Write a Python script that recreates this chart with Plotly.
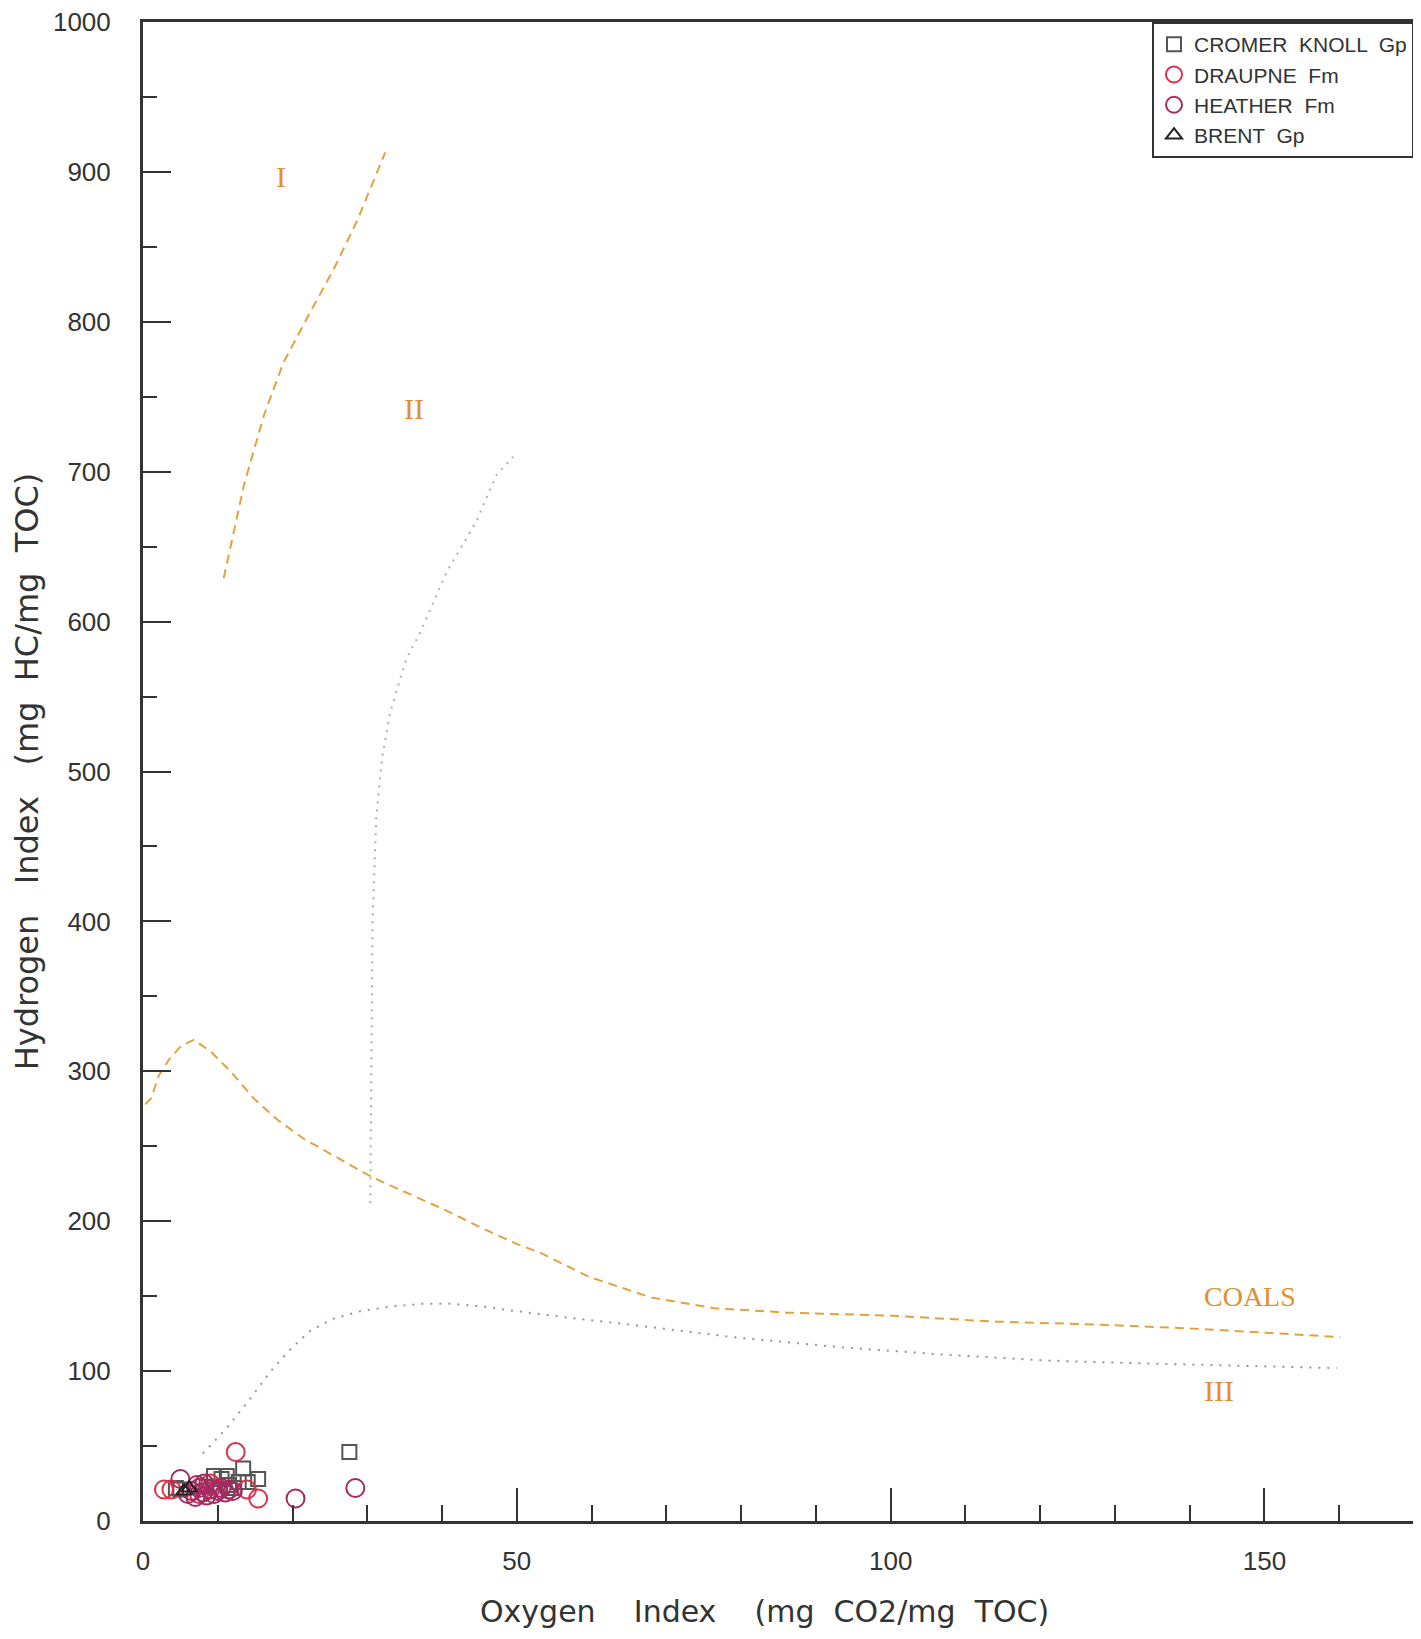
import plotly.graph_objects as go

# ---------------- data ----------------
x_tick_vals = [0, 50, 100, 150]
x_tick_text = ["0", "50", "100", "150"]
x_minor_vals = [10, 20, 30, 40, 50, 60, 70, 80, 90, 100, 110, 120, 130, 140, 150, 160]
y_tick_vals = [0, 100, 200, 300, 400, 500, 600, 700, 800, 900, 1000]
y_tick_text = ["0", "100", "200", "300", "400", "500", "600", "700", "800", "900", "1000"]
y_minor_vals = [50, 150, 250, 350, 450, 550, 650, 750, 850, 950]

# CROMER KNOLL Gp (squares)
cromer_oi = [4.4, 5.0, 8.5, 9.5, 10.5, 11.2, 11.5, 12.2, 12.8, 13.4, 14.0, 15.4, 27.6]
cromer_hi = [22, 21, 23, 30, 28, 30, 24, 22, 26, 35, 26, 28, 46]
# DRAUPNE Fm (red circles)
draupne_oi = [2.8, 3.8, 7.5, 9.0, 10.0, 12.4, 13.9, 15.4]
draupne_hi = [21, 21, 18, 25, 22, 46, 21, 15]
# HEATHER Fm (purple circles)
heather_oi = [5.0, 6.0, 6.5, 7.0, 7.2, 7.5, 8.0, 8.2, 8.5, 9.0, 9.5, 10.0, 10.5, 11.0, 11.5, 12.0, 20.4, 28.4]
heather_hi = [28, 18, 20, 16, 24, 22, 19, 25, 17, 21, 18, 20, 22, 19, 21, 20, 15, 22]
# BRENT Gp (triangles)
brent_oi = [5.5, 6.2]
brent_hi = [20, 22]

# Kerogen type evolution curves
type1_oi = [10.8, 13.5, 16.2, 18.8, 21.9, 25.5, 28.6, 31.2, 32.4]
type1_hi = [629, 691, 738, 773, 802, 835, 867, 898, 913]

type2_oi = [30.4, 30.5, 30.7, 31.2, 32.0, 33.1, 35.2, 37.1, 38.9, 40.6, 42.5, 44.6, 45.9, 47.3, 49.5]
type2_hi = [212, 300, 400, 470, 510, 540, 575, 593, 613, 633, 649, 667, 682, 698, 710]

coals_oi = [0.3, 1.1, 2.1, 3.5, 5.1, 6.8, 9.1, 11.7, 14.8, 17.9, 21.5, 25.1, 28.6, 30.4, 34.8, 40.2,
            45.5, 49.9, 53.1, 59.6, 68.0, 76.4, 86.1, 100.1, 114.0, 128.0, 142.0, 160.1]
coals_hi = [278, 282, 297, 308, 317, 321, 313, 300, 282, 268, 255, 245, 235, 230, 220, 208,
            195, 185, 179, 163, 149, 142, 139, 137, 133, 131, 128, 122.7]

type3_oi = [8.0, 9.5, 11.2, 14.4, 17.1, 19.8, 22.4, 25.5, 29.1, 33.1, 37.5, 41.1, 45.5, 49.9,
            57.9, 65.2, 79.2, 93.1, 107.1, 121.1, 135.0, 159.7]
type3_hi = [45, 53, 62, 82, 100, 115, 127, 135, 140, 143, 145, 145, 143, 140,
            135, 131, 122.5, 116, 111, 107, 105, 102]

label_text = ["I", "II", "COALS", "III"]
label_oi = [18.4, 36.2, 148.1, 143.9]
label_hi = [897, 742, 150, 87]

x_title = "Oxygen    Index    (mg  CO2/mg  TOC)"
y_title = "Hydrogen   Index   (mg  HC/mg  TOC)"

# ---------------- figure ----------------
AX = "#333333"
ORANGE = "#e2a23e"
DOT = "#b8aca4"
fig = go.Figure()

fig.add_trace(go.Scatter(x=type1_oi, y=type1_hi, mode="lines", showlegend=False, hoverinfo="skip",
                         line=dict(color=ORANGE, width=2, dash="9px,6px")))
fig.add_trace(go.Scatter(x=type2_oi, y=type2_hi, mode="lines", showlegend=False, hoverinfo="skip",
                         line=dict(color=DOT, width=2, dash="2px,6px")))
fig.add_trace(go.Scatter(x=coals_oi, y=coals_hi, mode="lines", showlegend=False, hoverinfo="skip",
                         line=dict(color=ORANGE, width=2, dash="9px,6px")))
fig.add_trace(go.Scatter(x=type3_oi, y=type3_hi, mode="lines", showlegend=False, hoverinfo="skip",
                         line=dict(color="#a89080", width=2, dash="2px,7px")))

fig.add_trace(go.Scatter(x=cromer_oi, y=cromer_hi, mode="markers", name="CROMER  KNOLL  Gp",
                         marker=dict(symbol="square-open", size=14, color="#555555", line=dict(width=2))))
fig.add_trace(go.Scatter(x=draupne_oi, y=draupne_hi, mode="markers", name="DRAUPNE  Fm",
                         marker=dict(symbol="circle-open", size=18, color="#e0304a", line=dict(width=2))))
fig.add_trace(go.Scatter(x=heather_oi, y=heather_hi, mode="markers", name="HEATHER  Fm",
                         marker=dict(symbol="circle-open", size=18, color="#a42a62", line=dict(width=2))))
fig.add_trace(go.Scatter(x=brent_oi, y=brent_hi, mode="markers", name="BRENT  Gp",
                         marker=dict(symbol="triangle-up-open", size=14, color="#222222", line=dict(width=2))))

label_sizes = [30, 30, 28, 30]
for t, xv, yv, s in zip(label_text, label_oi, label_hi, label_sizes):
    fig.add_annotation(x=xv, y=yv, text=t, showarrow=False,
                       font=dict(family="Liberation Serif", size=s, color="#e0902e"))

# x-axis title (as a paper-anchored annotation so it can sit slightly left of centre)
fig.add_annotation(xref="paper", yref="paper", x=0.4886, y=0, xanchor="center", yanchor="middle",
                   yshift=-90, showarrow=False, text=x_title, borderpad=0,
                   font=dict(family="DejaVu Sans", size=30, color=AX))

fig.update_layout(
    width=1408, height=1623,
    margin=dict(l=135, r=2, t=14, b=110, autoexpand=False),
    paper_bgcolor="white", plot_bgcolor="white",
    font=dict(family="Liberation Sans", color=AX, size=26),
    legend=dict(x=1, y=1, xanchor="right", yanchor="top", bgcolor="white",
                bordercolor=AX, borderwidth=2, font=dict(size=21, color=AX),
                tracegroupgap=0, itemsizing="trace"),
)

fig.update_xaxes(
    range=[0, 170], showgrid=False, zeroline=False, automargin=False,
    showline=True, linecolor=AX, linewidth=3, mirror=True,
    tickmode="array", tickvals=x_tick_vals, ticktext=x_tick_text,
    ticks="inside", ticklen=33, tickwidth=2, tickcolor=AX,
    minor=dict(tickmode="array", tickvals=x_minor_vals, ticks="inside", ticklen=16, tickwidth=2, tickcolor=AX),
    ticklabelstandoff=15, ticklabeloverflow="allow",
    tickfont=dict(size=26, color=AX),
)
fig.update_yaxes(
    range=[0, 1000], showgrid=False, zeroline=False, automargin=False,
    showline=True, linecolor=AX, linewidth=3, mirror=True,
    tickmode="array", tickvals=y_tick_vals, ticktext=y_tick_text,
    ticks="inside", ticklen=28, tickwidth=2, tickcolor=AX,
    minor=dict(tickmode="array", tickvals=y_minor_vals, ticks="inside", ticklen=14, tickwidth=2, tickcolor=AX),
    ticklabelstandoff=24, ticklabeloverflow="allow",
    tickfont=dict(size=26, color=AX),
    title=dict(text=y_title, font=dict(family="DejaVu Sans", size=32, color=AX), standoff=7),
)

fig.write_html("out.html")
